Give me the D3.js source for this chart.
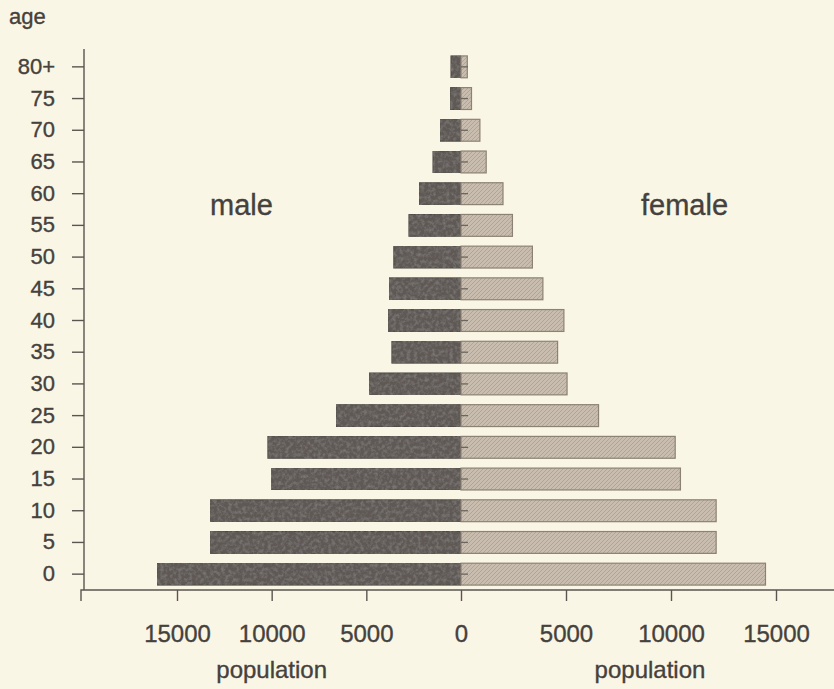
<!DOCTYPE html>
<html>
<head>
<meta charset="utf-8">
<script src="https://cdn.jsdelivr.net/npm/d3@7"></script>
<style>
  body { margin: 0; background: #faf6e5; }
  svg { display: block; }
  text { font-family: "Liberation Sans", Arial, sans-serif; fill: #45413d; stroke: #45413d; stroke-width: 0.35px; }
  .axis path, .axis line { stroke: #5a5550; stroke-width: 1.4; }
  .axis text { fill: #45413d; }
</style>
</head>
<body>
<div id="chart"></div>
<script>
// age groups, bottom to top
var ages = ["0", "5", "10", "15", "20", "25", "30", "35", "40", "45", "50", "55", "60", "65", "70", "75", "80+"];
var male = [16050, 13250, 13250, 10000, 10200, 6600, 4850, 3650, 3850, 3800, 3550, 2750, 2200, 1480, 1100, 580, 530];
var female = [14500, 12150, 12150, 10450, 10200, 6550, 5050, 4600, 4900, 3900, 3400, 2450, 2000, 1200, 900, 500, 300];
var popTicks = [0, 5000, 10000, 15000];

var width = 834, height = 689;

var svg = d3.select("#chart").append("svg")
  .attr("width", width)
  .attr("height", height);

svg.append("rect")
  .attr("width", width)
  .attr("height", height)
  .attr("fill", "#faf6e5");

var defs = svg.append("defs");

// mottled dark fill for males
var mottle = defs.append("filter")
  .attr("id", "mottle")
  .attr("x", 0).attr("y", 0).attr("width", 1).attr("height", 1);
mottle.append("feTurbulence")
  .attr("type", "fractalNoise")
  .attr("baseFrequency", 0.28)
  .attr("numOctaves", 3)
  .attr("seed", 5)
  .attr("result", "noise");
mottle.append("feColorMatrix")
  .attr("in", "noise")
  .attr("type", "matrix")
  .attr("values", "0 0 0 0 0.24  0 0 0 0 0.23  0 0 0 0 0.22  0 0 0 1.4 -0.55")
  .attr("result", "spots");
mottle.append("feComposite")
  .attr("in", "spots")
  .attr("in2", "SourceGraphic")
  .attr("operator", "in")
  .attr("result", "clipped");
var merge = mottle.append("feMerge");
merge.append("feMergeNode").attr("in", "SourceGraphic");
merge.append("feMergeNode").attr("in", "clipped");

// fine hatch for females
var hatch = defs.append("pattern")
  .attr("id", "hatch")
  .attr("patternUnits", "userSpaceOnUse")
  .attr("width", 4)
  .attr("height", 4);
hatch.append("rect")
  .attr("width", 4).attr("height", 4)
  .attr("fill", "#c8bdae");
hatch.append("path")
  .attr("d", "M0,4 L4,0 M-1,1 L1,-1 M3,5 L5,3")
  .attr("stroke", "#b0a595")
  .attr("stroke-width", 1);

// scales - the two halves of the original are drawn at slightly different widths
var y = d3.scaleBand()
  .domain(ages)
  .range([590, 51])
  .paddingInner(0.31)
  .paddingOuter(0.155);

var xMale = d3.scaleLinear()
  .domain([0, 15000])
  .range([461, 177]);

var xFemale = d3.scaleLinear()
  .domain([0, 15000])
  .range([461, 776]);

// bars
var rows = ages.map(function(a, i){
  return {age: a, male: male[i], female: female[i]};
});

svg.append("g")
  .selectAll("rect")
  .data(rows)
  .enter().append("rect")
    .attr("x", function(d){ return xMale(d.male); })
    .attr("y", function(d){ return y(d.age); })
    .attr("width", function(d){ return xMale(0) - xMale(d.male); })
    .attr("height", y.bandwidth())
    .attr("fill", "#5e5954")
    .attr("stroke", "#4e4a46")
    .attr("stroke-width", 1)
    .attr("filter", "url(#mottle)");

svg.append("g")
  .selectAll("rect")
  .data(rows)
  .enter().append("rect")
    .attr("x", xFemale(0))
    .attr("y", function(d){ return y(d.age); })
    .attr("width", function(d){ return xFemale(d.female) - xFemale(0); })
    .attr("height", y.bandwidth())
    .attr("fill", "url(#hatch)")
    .attr("stroke", "#8b8275")
    .attr("stroke-width", 1.2);

// little zero marks inside each bar
svg.append("g")
  .selectAll("line")
  .data(rows)
  .enter().append("line")
    .attr("x1", xFemale(0))
    .attr("x2", xFemale(0) + 7)
    .attr("y1", function(d){ return y(d.age) + y.bandwidth() / 2; })
    .attr("y2", function(d){ return y(d.age) + y.bandwidth() / 2; })
    .attr("stroke", "#6d665e")
    .attr("stroke-width", 1.3);

// y axis
var yAxis = d3.axisLeft(y)
  .tickSize(12)
  .tickSizeOuter(0)
  .tickPadding(17);

var yg = svg.append("g")
  .attr("class", "axis")
  .attr("transform", "translate(84,0)")
  .call(yAxis);
yg.select(".domain").attr("d", "M0,49 V590");
yg.selectAll("text").style("font-size", "22px");

// x axes, one per side
var xAxisMale = d3.axisBottom(xMale)
  .tickValues(popTicks)
  .tickFormat(d3.format("d"))
  .tickSize(11)
  .tickPadding(24);

var xAxisFemale = d3.axisBottom(xFemale)
  .tickValues(popTicks.slice(1))
  .tickFormat(d3.format("d"))
  .tickSize(11)
  .tickPadding(24);

var xg1 = svg.append("g")
  .attr("class", "axis")
  .attr("transform", "translate(0,590)")
  .call(xAxisMale);
xg1.select(".domain").remove();

var xg2 = svg.append("g")
  .attr("class", "axis")
  .attr("transform", "translate(0,590)")
  .call(xAxisFemale);
xg2.select(".domain").remove();

xg1.selectAll("text").style("font-size", "24px");
xg2.selectAll("text").style("font-size", "24px");

// baseline runs off the right edge
svg.append("path")
  .attr("d", "M81,601 V590 H834")
  .attr("fill", "none")
  .attr("stroke", "#5a5550")
  .attr("stroke-width", 1.4);

// labels
svg.append("text")
  .attr("x", 9)
  .attr("y", 24)
  .style("font-size", "22px")
  .text("age");

svg.append("text")
  .attr("x", 210)
  .attr("y", 215)
  .style("font-size", "29px")
  .text("male");

svg.append("text")
  .attr("x", 641)
  .attr("y", 215)
  .style("font-size", "29px")
  .text("female");

// axis titles sit under the middle of each half
svg.append("text")
  .attr("x", xMale(10000))
  .attr("y", 678)
  .attr("text-anchor", "middle")
  .style("font-size", "24px")
  .text("population");

svg.append("text")
  .attr("x", xFemale(9000))
  .attr("y", 678)
  .attr("text-anchor", "middle")
  .style("font-size", "24px")
  .text("population");
</script>
</body>
</html>
